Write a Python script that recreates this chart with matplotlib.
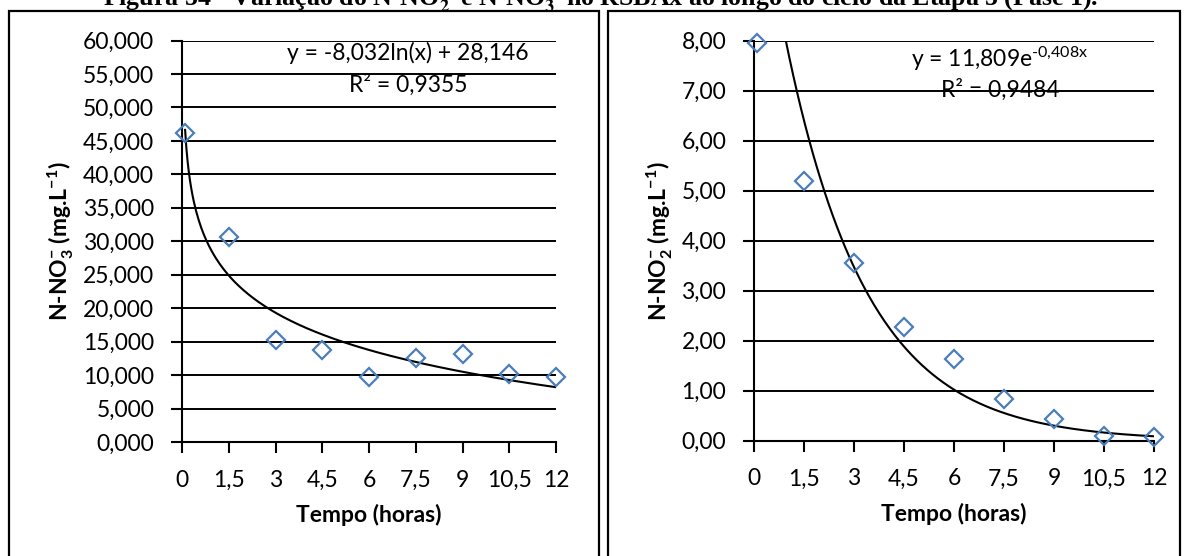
import numpy as np
import matplotlib
matplotlib.use('Agg')
import matplotlib.pyplot as plt
from matplotlib.patches import Rectangle
from matplotlib.ticker import FixedLocator, FuncFormatter

plt.rcParams['font.family'] = ['Lato', 'DejaVu Sans']
plt.rcParams['mathtext.fontset'] = 'custom'
plt.rcParams['mathtext.rm'] = 'Lato'
plt.rcParams['mathtext.bf'] = 'Lato:bold'
plt.rcParams['mathtext.it'] = 'Lato:italic'

# Dados
tempo = [0.1, 1.5, 3, 4.5, 6, 7.5, 9, 10.5, 12]
no3 = [46.2, 30.6, 15.3, 13.7, 9.7, 12.5, 13.1, 10.1, 9.7]
no2 = [7.95, 5.20, 3.56, 2.28, 1.63, 0.83, 0.43, 0.09, 0.08]

# Linhas de tendência (coeficientes exibidos no gráfico)
log_a, log_b = -8.032, 28.146
exp_a, exp_b = 11.809, -0.408

x_ticks = [0, 1.5, 3, 4.5, 6, 7.5, 9, 10.5, 12]
x_labels = ['0', '1,5', '3', '4,5', '6', '7,5', '9', '10,5', '12']

blue = '#4A7EBB'
tick_fs = 16.5

fig = plt.figure(figsize=(11.86, 5.56), dpi=100)

# moldura dos dois gráficos
fig.add_artist(Rectangle((9 / 1186, -0.05), 590 / 1186, 1.05 - 11 / 556,
                         transform=fig.transFigure, fill=False, ec='black', lw=1.6))
fig.add_artist(Rectangle((608 / 1186, -0.05), 572 / 1186, 1.05 - 11 / 556,
                         transform=fig.transFigure, fill=False, ec='black', lw=1.6))

# título (cortado no topo, como no original)
fig.text(601 / 1186, 1 - 6 / 556,
         r'Figura 54 - Variação do N-NO$_\mathbf{2}^\mathbf{-}$ e N-NO$_\mathbf{3}^\mathbf{-}$ '
         'no RSBAx ao longo do ciclo da Etapa 5 (Fase 1).',
         family='Liberation Serif', weight='bold', fontsize=18.6, math_fontfamily='stix',
         ha='center', va='baseline')

ax1 = fig.add_axes([182 / 1186, 1 - 442 / 556, 374 / 1186, 401.5 / 556])
ax2 = fig.add_axes([754 / 1186, 1 - 440.7 / 556, 400 / 1186, 400 / 556])


def style(ax, ymax, ystep, ydec):
    ax.set_xlim(0, 12)
    ax.set_ylim(0, ymax)
    for s in ['top', 'right']:
        ax.spines[s].set_visible(False)
    for s in ['left', 'bottom']:
        ax.spines[s].set_linewidth(1.5)
    ax.xaxis.set_major_locator(FixedLocator(x_ticks))
    ax.set_xticklabels(x_labels)
    ax.set_yticks(np.arange(0, ymax + ystep / 2, ystep))
    ax.yaxis.set_major_formatter(FuncFormatter(
        lambda v, _: f'{v:.{ydec}f}'.replace('.', ',')))
    ax.tick_params(axis='both', direction='out', length=8, width=1.5,
                   labelsize=tick_fs, color='black')
    ax.tick_params(axis='y', pad=12)
    ax.tick_params(axis='x', pad=12)
    ax.grid(axis='y', color='black', lw=1.4)
    ax.set_axisbelow(True)
    ax.set_xlabel('Tempo (horas)', fontsize=tick_fs, weight='bold', va='center')
    ax.xaxis.set_label_coords(0.5, -0.182)


style(ax1, 60, 5, 3)
style(ax2, 8, 1, 2)

xs = np.linspace(0.1, 12, 300)
ax1.plot(xs, log_a * np.log(xs) + log_b, color='black', lw=1.5)
ax1.plot(tempo, no3, ls='none', marker='D', ms=9.5, mfc='none', mec=blue, mew=1.6,
         clip_on=False, zorder=3)
ax1.set_ylabel(r'N-NO$_{\mathbf{3}}^{\mathbf{-}}$ (mg.L$^{\mathbf{-1}}$)',
               fontsize=tick_fs, weight='bold', va='center')
ax1.yaxis.set_label_coords(-0.3235, 0.5)
ax1.text(0.604, 0.969, 'y = -8,032ln(x) + 28,146', transform=ax1.transAxes,
         fontsize=tick_fs, ha='center', va='center')
ax1.text(0.604, 0.889, 'R² = 0,9355', transform=ax1.transAxes,
         fontsize=tick_fs, ha='center', va='center')

ax2.plot(xs, exp_a * np.exp(exp_b * xs), color='black', lw=1.5)
ax2.plot(tempo, no2, ls='none', marker='D', ms=9.5, mfc='none', mec=blue, mew=1.6,
         clip_on=False, zorder=3)
ax2.set_ylabel(r'N-NO$_{\mathbf{2}}^{\mathbf{-}}$ (mg.L$^{\mathbf{-1}}$)',
               fontsize=tick_fs, weight='bold', va='center')
ax2.yaxis.set_label_coords(-0.235, 0.5)
ax2.text(0.615, 0.954, r'y = 11,809e$^{\text{-0,408x}}$', transform=ax2.transAxes,
         fontsize=tick_fs, ha='center', va='center')
ax2.text(0.615, 0.877, 'R² = 0,9484', transform=ax2.transAxes,
         fontsize=tick_fs, ha='center', va='center')

fig.savefig('out.png', dpi=100)
